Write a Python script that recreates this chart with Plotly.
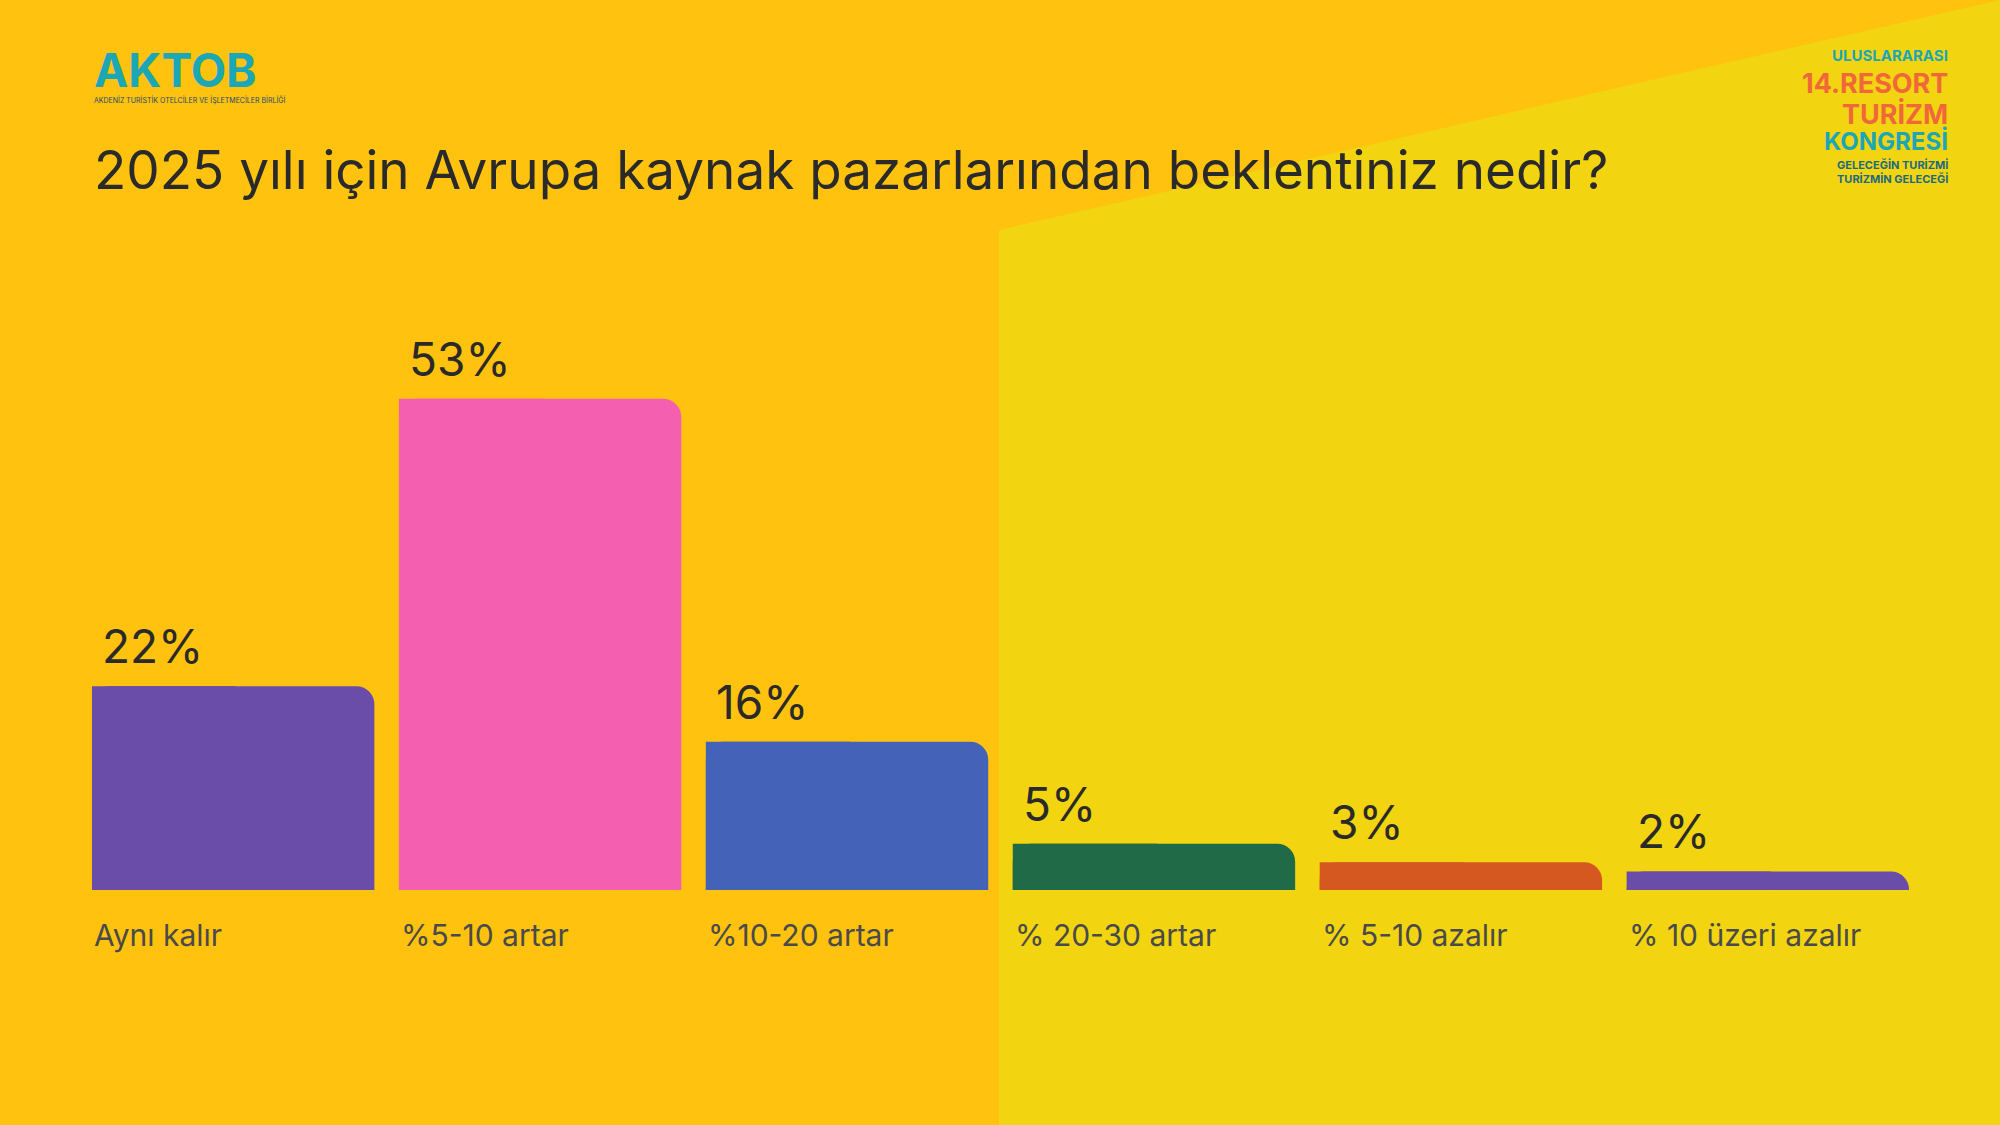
import plotly.graph_objects as go

categories = ["Aynı kalır", "%5-10 artar", "%10-20 artar", "% 20-30 artar", "% 5-10 azalır", "% 10 üzeri azalır"]
values = [22, 53, 16, 5, 3, 2]
colors = ["#6A4DA8", "#F45FB0", "#4463B8", "#216A47", "#D4581F", "#6A4DA8"]

W, H = 2000, 1125
L, R, T, B = 92, 91, 334, 235
pw, ph = W - L - R, H - T - B
def px(x): return (x - L) / pw
def py(y): return (H - B - y) / ph

xs = list(range(len(categories)))
fig = go.Figure()
fig.add_bar(x=xs, y=values, marker_color=colors, marker_line_width=0, width=0.92, marker_cornerradius=18, hoverinfo="skip")
fig.add_bar(x=xs, y=values, marker_color=colors, marker_line_width=0, width=0.47, offset=-0.46, hoverinfo="skip")

ann = []
for i, (c, v) in enumerate(zip(categories, values)):
    ann.append(dict(x=i - 0.46, y=v, xref="x", yref="y", text=f"{v}%", showarrow=False,
                    xanchor="left", yanchor="bottom", xshift=8, yshift=10,
                    font=dict(size=46, color="#2a2a2a", family="Inter")))
    ann.append(dict(x=i - 0.46, y=0, xref="x", yref="y", text=c, showarrow=False,
                    xanchor="left", yanchor="middle", yshift=-45,
                    font=dict(size=30, color="#4a4a4a", family="Inter")))
ann.append(dict(x=px(92), y=py(170), xref="paper", yref="paper", text="2025 yılı için Avrupa kaynak pazarlarından beklentiniz nedir?",
                showarrow=False, xanchor="left", yanchor="middle", font=dict(size=53, color="#2a2a2a", family="Inter")))
ann.append(dict(x=px(92), y=py(70), xref="paper", yref="paper", text="<b>AKTOB</b>", showarrow=False,
                xanchor="left", yanchor="middle", font=dict(size=46, color="#1BA7B5", family="Inter")))
ann.append(dict(x=px(92), y=py(100), xref="paper", yref="paper", text="AKDENİZ TURİSTİK OTELCİLER VE İŞLETMECİLER BİRLİĞİ",
                showarrow=False, xanchor="left", yanchor="middle", font=dict(size=7, color="#1a4a70", family="Inter")))
for txt, yy, sz, col in [("ULUSLARARASI", 55, 15, "#1BA7B5"), ("14.RESORT", 84, 27, "#F0683A"), ("TURİZM", 114, 27, "#F0683A"),
                          ("KONGRESİ", 141, 24, "#1BA7B5"), ("GELECEĞİN TURİZMİ", 165, 11, "#1a6a80"), ("TURİZMİN GELECEĞİ", 179, 11, "#1a6a80")]:
    ann.append(dict(x=px(1950), y=py(yy), xref="paper", yref="paper", text=f"<b>{txt}</b>", showarrow=False,
                    xanchor="right", yanchor="middle", font=dict(size=sz, color=col, family="Inter")))

shapes = [dict(type="path", xref="paper", yref="paper", layer="below", line_width=0, fillcolor="#F2D411",
               path=f"M {px(999)} {py(230)} L {px(2000)} {py(0)} L {px(2000)} {py(1125)} L {px(999)} {py(1125)} Z")]

fig.update_layout(width=W, height=H, margin=dict(l=L, r=R, t=T, b=B), paper_bgcolor="#FFC20E",
                  plot_bgcolor="rgba(0,0,0,0)", barmode="overlay", showlegend=False,
                  xaxis=dict(range=[-0.46, 5.46], visible=False, fixedrange=True),
                  yaxis=dict(range=[0, 60], visible=False, fixedrange=True),
                  annotations=ann, shapes=shapes)
fig.write_html("out.html", config={"displayModeBar": False},
               post_script="document.body.style.margin='0';document.body.style.background='#FFC20E';")
